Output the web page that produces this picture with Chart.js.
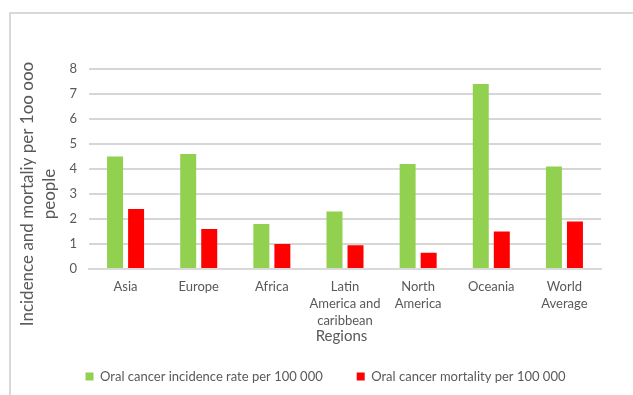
<!DOCTYPE html>
<html>
<head>
<meta charset="utf-8">
<script src="https://cdn.jsdelivr.net/npm/chart.js@4"></script>
<style>
    html, body { margin: 0; padding: 0; background: #fff; overflow: hidden; }
    .frame { position: absolute; left: 9px; top: 12px; width: 700px; height: 500px; border: 2px solid #d9d9d9; box-sizing: border-box; }
    .wrap { position: absolute; left: 0; top: 0; width: 633px; height: 395px; }
</style>
</head>
<body>
<div class="frame"></div>
<div class="wrap"><canvas id="regionChart" width="633" height="395"></canvas></div>
<script>
// chart data
const regions = [
    'Asia',
    'Europe',
    'Africa',
    ['Latin', 'America and', 'caribbean'],
    ['North', 'America'],
    'Oceania',
    ['World', 'Average']
];
const incidenceRate = [4.5, 4.6, 1.8, 2.3, 4.2, 7.4, 4.1];
const mortalityRate = [2.4, 1.6, 1.0, 0.95, 0.65, 1.5, 1.9];
const yTicks = [0, 1, 2, 3, 4, 5, 6, 7, 8];
const seriesNames = ['Oral cancer incidence rate per 100 000', 'Oral cancer mortality per 100 000'];
const yTitle = ['Incidence and mortaliy per 1oo ooo', 'people'];
const xTitle = 'Regions';

const textGrey = '#595959';
const fontFamily = "Lato, 'Open Sans', sans-serif";

// axis titles drawn by hand so they sit where the original has them
const axisTitles = {
    id: 'axisTitles',
    afterDraw(chart) {
        const ctx = chart.ctx;
        ctx.save();
        ctx.fillStyle = textGrey;
        ctx.textAlign = 'center';
        ctx.textBaseline = 'middle';
        ctx.font = "17px " + fontFamily;
        ctx.translate(0, 194);
        ctx.rotate(-Math.PI / 2);
        ctx.fillText(yTitle[0], 0, 28);
        ctx.fillText(yTitle[1], 0, 50);
        ctx.restore();

        ctx.save();
        ctx.fillStyle = textGrey;
        ctx.textAlign = 'center';
        ctx.textBaseline = 'middle';
        ctx.font = "15px " + fontFamily;
        ctx.fillText(xTitle, 341.5, 336);
        ctx.restore();
    }
};

const ctx = document.getElementById('regionChart');
new Chart(ctx, {
    type: 'bar',
    data: {
        labels: regions,
        datasets: [
            {
                label: seriesNames[0],
                data: incidenceRate,
                backgroundColor: '#92D050',
                categoryPercentage: 0.575,
                barPercentage: 0.76
            },
            {
                label: seriesNames[1],
                data: mortalityRate,
                backgroundColor: '#FF0000',
                categoryPercentage: 0.575,
                barPercentage: 0.76
            }
        ]
    },
    options: {
        responsive: false,
        animation: false,
        layout: {
            padding: { left: 50, right: 32, top: 69, bottom: 2 }
        },
        scales: {
            x: {
                grid: { display: false, drawTicks: false },
                border: { color: '#d9d9d9', width: 2 },
                ticks: {
                    color: textGrey,
                    font: { family: fontFamily, size: 13, lineHeight: 1.32 },
                    padding: 9,
                    maxRotation: 0,
                    autoSkip: false
                },
                afterFit: function(scale) { scale.height = 67; }
            },
            y: {
                min: 0,
                max: 8,
                afterBuildTicks: function(scale) {
                    scale.ticks = yTicks.map(v => ({ value: v }));
                },
                grid: { color: '#d6d6d6', lineWidth: 2, drawTicks: false },
                border: { display: false },
                ticks: {
                    color: textGrey,
                    font: { family: fontFamily, size: 13 },
                    padding: 12
                },
                afterFit: function(scale) { scale.width = 39; }
            }
        },
        plugins: {
            legend: {
                position: 'bottom',
                labels: {
                    boxWidth: 8,
                    boxHeight: 8,
                    padding: 34,
                    color: textGrey,
                    font: { family: fontFamily, size: 13 }
                }
            },
            tooltip: { enabled: false }
        }
    },
    plugins: [axisTitles]
});
</script>
</body>
</html>
